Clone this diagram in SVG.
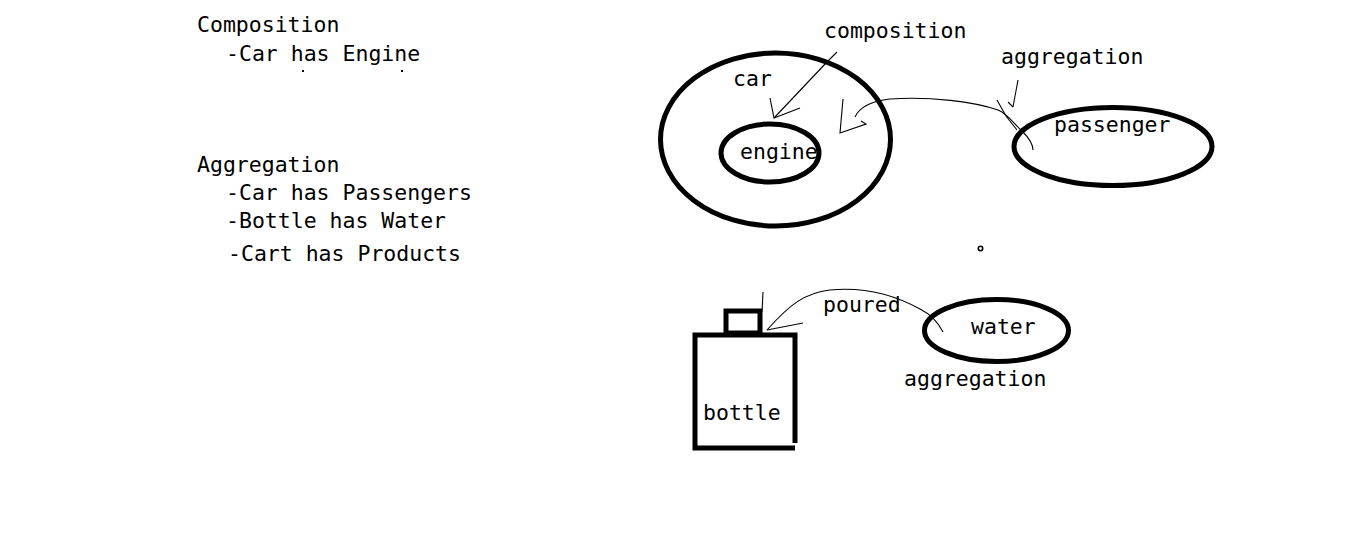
<svg xmlns="http://www.w3.org/2000/svg" width="1349" height="544" viewBox="0 0 1349 544">
<style>
text{font-family:"DejaVu Sans Mono","Liberation Mono",monospace;font-size:21.5px;fill:#000}
.thick{fill:none;stroke:#000;stroke-width:5}
.thin{fill:none;stroke:#000;stroke-width:1.1}
</style>
<rect width="1349" height="544" fill="#fff"/>
<g id="notes">
<text x="197" y="32">Composition</text>
<text x="226" y="61">-Car has Engine</text>
<rect x="302" y="70" width="2" height="2" fill="#000"/>
<rect x="401" y="70" width="2" height="2" fill="#000"/>
<text x="197" y="172">Aggregation</text>
<text x="226" y="200">-Car has Passengers</text>
<text x="226" y="228">-Bottle has Water</text>
<text x="228" y="261">-Cart has Products</text>
</g>
<g id="car">
<ellipse class="thick" cx="775.5" cy="139.5" rx="115" ry="86.5"/>
<text x="733" y="86">car</text>
</g>
<g id="engine">
<ellipse class="thick" cx="770" cy="153" rx="49" ry="29"/>
<text x="740" y="159">engine</text>
</g>
<g id="passenger">
<ellipse class="thick" cx="1113" cy="146.5" rx="99" ry="39"/>
<text x="1054" y="132">passenger</text>
</g>
<g id="water">
<ellipse class="thick" cx="996.5" cy="330.5" rx="72" ry="31"/>
<text x="971" y="334">water</text>
</g>
<g id="bottle">
<polyline class="thick" points="795,443 795,335 695,335 695,448 795,448"/>
<rect class="thick" x="726" y="311" width="34" height="22"/>
<text x="703" y="420">bottle</text>
</g>
<g id="labels">
<text x="824" y="38">composition</text>
<text x="1001" y="64">aggregation</text>
<text x="823" y="312">poured</text>
<text x="904" y="386">aggregation</text>
</g>
<g id="connectors">
<polyline class="thin" points="837,52 826,63 774,118"/>
<polyline class="thin" points="770,98 774,118 800,108"/>
<path class="thin" d="M855,117 C860,106 872,101 890,99 C930,96 975,102 998,110 C1008,114 1014,124 1022,131 C1028,137 1033,143 1033,150"/>
<polyline class="thin" points="843,99 840,133 866,124 861,121"/>
<polyline class="thin" points="1018,80 1013,107"/>
<polyline class="thin" points="1008,102 1013,107"/>
<polyline class="thin" points="997,100 1006,116 1017,130"/>
<path class="thin" d="M943,332 C938,322 930,314 920,309 C900,298 870,286 830,290 C805,293 790,304 767,330"/>
<polyline class="thin" points="763,292 762,312"/>
<polyline class="thin" points="767,330 803,323"/>
<circle cx="980.5" cy="248.5" r="2.2" fill="none" stroke="#000" stroke-width="1.6"/>
</g>
</svg>
